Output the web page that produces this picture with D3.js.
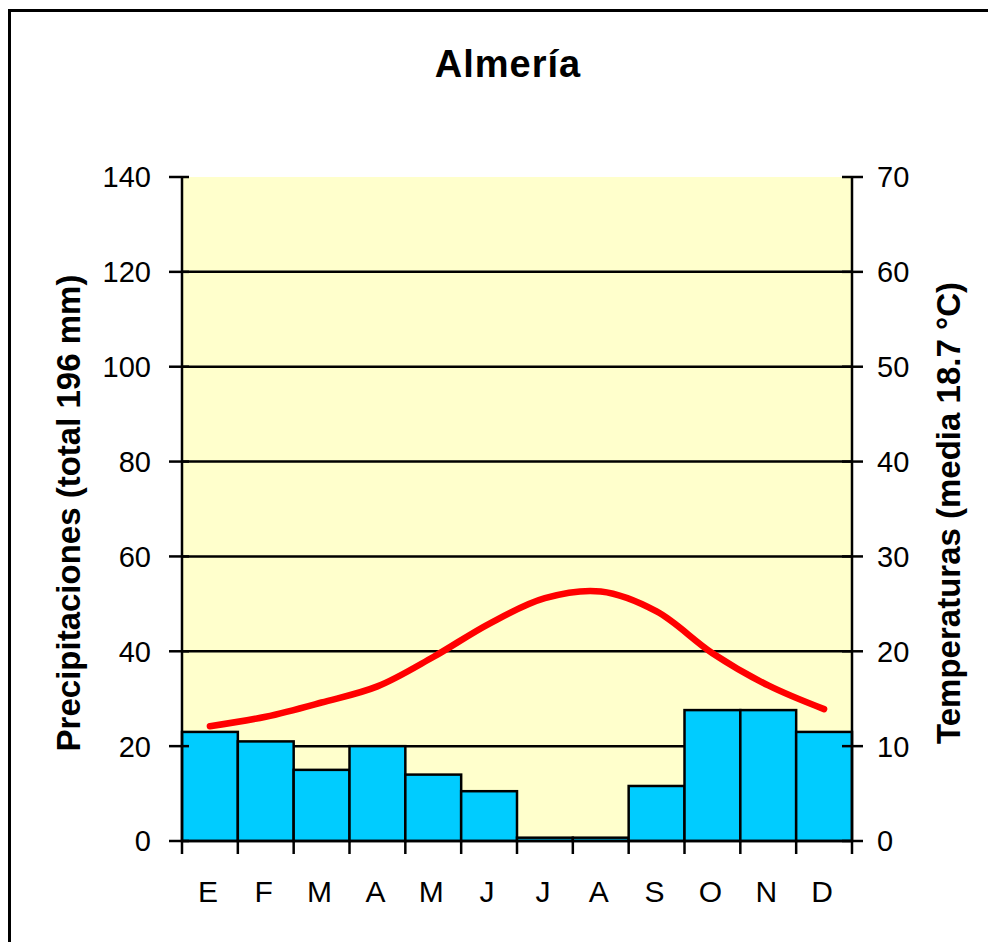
<!DOCTYPE html>
<html>
<head>
<meta charset="utf-8">
<script src="https://cdn.jsdelivr.net/npm/d3@7"></script>
<style>
  html, body { margin: 0; padding: 0; background: #ffffff; }
  svg { display: block; }
  text { font-family: "Liberation Sans", Arial, sans-serif; fill: #000; }
</style>
</head>
<body>
<script>
const title = "Almería";
const months = ["E", "F", "M", "A", "M", "J", "J", "A", "S", "O", "N", "D"];
const precipitation = [23, 21, 15, 20, 14, 10.5, 0.7, 0.7, 11.6, 27.6, 27.6, 23];
const temperature = [12.1, 13.1, 14.6, 16.3, 19.4, 22.9, 25.6, 26.3, 24.2, 19.8, 16.4, 13.9];
const precipTicks = [0, 20, 40, 60, 80, 100, 120, 140];
const tempTicks = [0, 10, 20, 30, 40, 50, 60, 70];
const leftTitle = "Precipitaciones (total 196 mm)";
const rightTitle = "Temperaturas (media 18.7 °C)";

const W = 988, H = 942;
const plot = { left: 182, right: 852, top: 177, bottom: 841 };

const svg = d3.select("body").append("svg").attr("width", W).attr("height", H);

// outer frame
svg.append("rect").attr("x", 9.5).attr("y", 10.5).attr("width", 1200).attr("height", 1200)
  .attr("fill", "#ffffff").attr("stroke", "#000").attr("stroke-width", 3);

const x = d3.scaleBand().domain(d3.range(months.length)).range([plot.left, plot.right]).padding(0);
const yP = d3.scaleLinear().domain([0, 140]).range([plot.bottom, plot.top]);
const yT = d3.scaleLinear().domain([0, 70]).range([plot.bottom, plot.top]);

// plot background
svg.append("rect").attr("x", plot.left).attr("y", plot.top)
  .attr("width", plot.right - plot.left).attr("height", plot.bottom - plot.top)
  .attr("fill", "#FFFFCC");

// gridlines
svg.append("g").selectAll("line").data(precipTicks.filter(d => d > 0 && d < 140)).join("line")
  .attr("x1", plot.left).attr("x2", plot.right)
  .attr("y1", d => yP(d)).attr("y2", d => yP(d))
  .attr("stroke", "#000").attr("stroke-width", 2.5);

// bars
svg.append("g").selectAll("rect").data(precipitation).join("rect")
  .attr("x", (d, i) => x(i))
  .attr("width", x.bandwidth())
  .attr("y", d => yP(d))
  .attr("height", d => yP(0) - yP(d))
  .attr("fill", "#00CCFF")
  .attr("stroke", "#000").attr("stroke-width", 2.5);

// temperature line
const line = d3.line()
  .x((d, i) => x(i) + x.bandwidth() / 2)
  .y(d => yT(d))
  .curve(d3.curveCatmullRom.alpha(0.5));
svg.append("path").datum(temperature)
  .attr("d", line)
  .attr("fill", "none").attr("stroke", "#FF0000").attr("stroke-width", 6.5)
  .attr("stroke-linecap", "round").attr("stroke-linejoin", "round");

// axes lines
const axes = svg.append("g").attr("stroke", "#000").attr("stroke-width", 2.5);
axes.append("line").attr("x1", plot.left).attr("x2", plot.left).attr("y1", plot.top).attr("y2", plot.bottom);
axes.append("line").attr("x1", plot.right).attr("x2", plot.right).attr("y1", plot.top).attr("y2", plot.bottom);
axes.append("line").attr("x1", plot.left).attr("x2", plot.right).attr("y1", plot.bottom).attr("y2", plot.bottom);

// left ticks
axes.append("g").selectAll("line").data(precipTicks).join("line")
  .attr("x1", plot.left - 13).attr("x2", plot.left + 7)
  .attr("y1", d => yP(d)).attr("y2", d => yP(d));
// right ticks
axes.append("g").selectAll("line").data(tempTicks).join("line")
  .attr("x1", plot.right - 10).attr("x2", plot.right + 11)
  .attr("y1", d => yT(d)).attr("y2", d => yT(d));
// bottom ticks at band boundaries
axes.append("g").selectAll("line").data(d3.range(months.length + 1)).join("line")
  .attr("x1", i => i < months.length ? x(i) : plot.right)
  .attr("x2", i => i < months.length ? x(i) : plot.right)
  .attr("y1", plot.bottom).attr("y2", plot.bottom + 13);

// tick labels
svg.append("g").selectAll("text").data(precipTicks).join("text")
  .attr("x", 151).attr("y", d => yP(d)).attr("dy", "0.36em")
  .attr("text-anchor", "end").attr("font-size", 29)
  .text(d => d);
svg.append("g").selectAll("text").data(tempTicks).join("text")
  .attr("x", 877).attr("y", d => yT(d)).attr("dy", "0.36em")
  .attr("text-anchor", "start").attr("font-size", 29)
  .text(d => d);
svg.append("g").selectAll("text").data(months).join("text")
  .attr("x", (d, i) => x(i) + x.bandwidth() / 2 - 2).attr("y", 902)
  .attr("text-anchor", "middle").attr("font-size", 30)
  .text(d => d);

// title
svg.append("text").attr("x", 508).attr("y", 77)
  .attr("text-anchor", "middle").attr("font-size", 38).attr("font-weight", "bold")
  .attr("letter-spacing", 1)
  .text(title);

// axis titles
const cy = (plot.top + plot.bottom) / 2 + 4;
svg.append("text")
  .attr("transform", `translate(80,${cy}) rotate(-90)`)
  .attr("text-anchor", "middle").attr("font-size", 33).attr("font-weight", "bold")
  .text(leftTitle);
svg.append("text")
  .attr("transform", `translate(960,${cy}) rotate(-90)`)
  .attr("text-anchor", "middle").attr("font-size", 33).attr("font-weight", "bold")
  .text(rightTitle);
</script>
</body>
</html>
